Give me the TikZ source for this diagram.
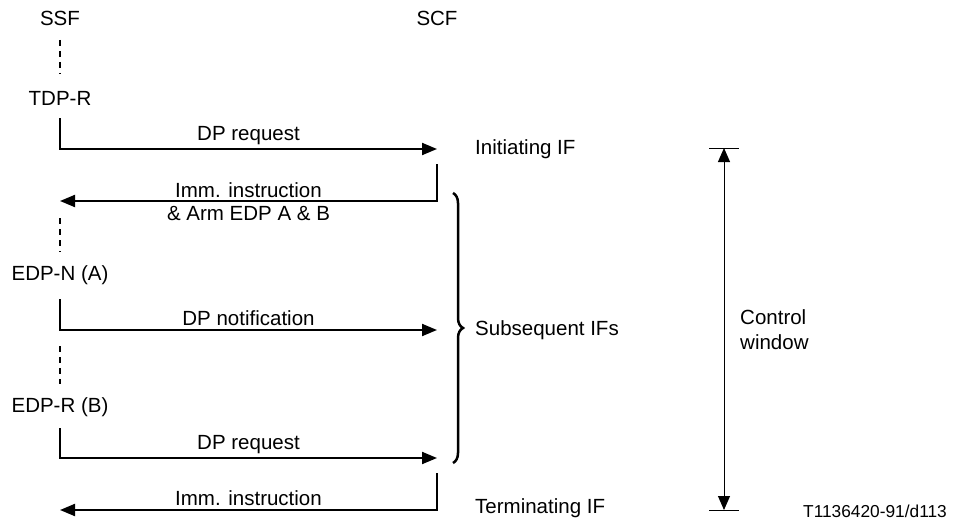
\documentclass[tikz,border=0pt]{standalone}
\usepackage{fontspec}
\setmainfont{Liberation Sans}
\usetikzlibrary{arrows.meta,decorations.pathreplacing}
\begin{document}
\begin{tikzpicture}[x=1pt,y=-1pt,
  lbl/.style={inner sep=1pt,font=\fontsize{20.5}{25}\selectfont},
  small/.style={inner sep=1pt,font=\fontsize{17.3}{20}\selectfont},
  dashline/.style={line width=2pt,dash pattern=on 6pt off 5pt},
  msg/.style={line width=2pt,-{Triangle[length=15pt,width=12pt]}},
  dim/.style={line width=1pt,{Triangle[length=14pt,width=12pt]}-{Triangle[length=14pt,width=12pt]}},
  tick/.style={line width=1pt}]
\useasboundingbox (0,0) rectangle (953,527);
% lifeline labels
\node[lbl] (ssf) at (60,18) {SSF};
\node[lbl] (scf) at (437,18) {SCF};
\node[lbl] (tdpr) at (60,98) {TDP-R};
\node[lbl] (edpn) at (60,275) {EDP-N (A)};
\node[lbl] (edpr) at (60,407) {EDP-R (B)};
% dashed segments
\coordinate (d1a) at (60,40); \coordinate (d1b) at (60,74);
\coordinate (d2a) at (60,218); \coordinate (d2b) at (60,252);
\coordinate (d3a) at (60,346); \coordinate (d3b) at (60,384);
\draw[dashline] (d1a) -- (d1b);
\draw[dashline] (d2a) -- (d2b);
\draw[dashline] (d3a) -- (d3b);
% messages
\coordinate (m1s) at (60,118); \coordinate (m1c) at (60,149); \coordinate (m1e) at (437,149);
\draw[msg] (m1s) -- (m1c) -- node[lbl,above=2pt] (l1) {DP request} (m1e);
\coordinate (m2s) at (437,164); \coordinate (m2c) at (437,201); \coordinate (m2e) at (60,201);
\draw[msg] (m2s) -- (m2c) -- node[lbl,above=1pt] (l2a) {Imm. instruction} node[lbl,below=3pt] (l2b) {\& Arm EDP A \& B} (m2e);
\coordinate (m3s) at (60,299); \coordinate (m3c) at (60,330); \coordinate (m3e) at (437,330);
\draw[msg] (m3s) -- (m3c) -- node[lbl,above=2pt] (l3) {DP notification} (m3e);
\coordinate (m4s) at (60,428); \coordinate (m4c) at (60,458); \coordinate (m4e) at (437,458);
\draw[msg] (m4s) -- (m4c) -- node[lbl,above=2pt] (l4) {DP request} (m4e);
\coordinate (m5s) at (437,473); \coordinate (m5c) at (437,510); \coordinate (m5e) at (60,510);
\draw[msg] (m5s) -- (m5c) -- node[lbl,above=2pt] (l5) {Imm. instruction} (m5e);
% right side labels
\node[lbl,anchor=west] (init) at (474,149) {Initiating IF};
\node[lbl,anchor=west] (subs) at (474,330) {Subsequent IFs};
\node[lbl,anchor=west] (term) at (474,508) {Terminating IF};
% brace
\coordinate (b1) at (453,193); \coordinate (b2) at (453,463);
\draw[line width=2.5pt,decorate,decoration={brace,amplitude=10pt}] (b1) -- (b2);
% control window
\coordinate (t1a) at (709,148); \coordinate (t1b) at (739,148);
\coordinate (t2a) at (709,510); \coordinate (t2b) at (739,510);
\coordinate (ct) at (724,148); \coordinate (cb) at (724,510);
\draw[tick] (t1a) -- (t1b);
\draw[tick] (t2a) -- (t2b);
\draw[dim] (ct) -- (cb);
\node[lbl,anchor=west,align=left] (cw) at (739,330) {Control\\window};
\node[small,anchor=west] (fig) at (802,511) {T1136420-91/d113};
\end{tikzpicture}
\end{document}
